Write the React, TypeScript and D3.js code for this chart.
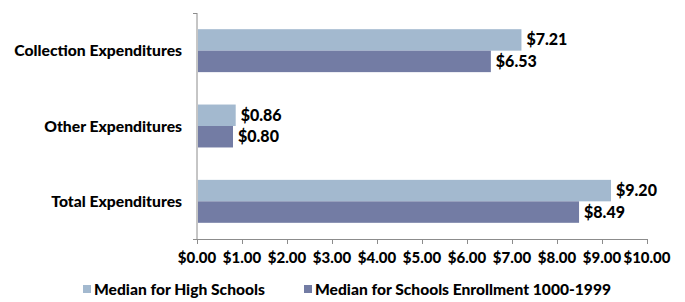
import React, { useEffect, useRef } from 'react';
import * as d3 from 'd3';

const categories = ['Collection Expenditures', 'Other Expenditures', 'Total Expenditures'];
const seriesNames = ['Median for High Schools', 'Median for Schools Enrollment 1000-1999'];
const highSchools = [7.21, 0.86, 9.2];
const enrollment1000 = [6.53, 0.8, 8.49];
const xTicks = [0, 1, 2, 3, 4, 5, 6, 7, 8, 9, 10];
const colors = ['#A3B9CF', '#737CA4'];

const W = 685;
const H = 302;
const FONT = 'Lato, "Open Sans", sans-serif';

const App = () => {
  const ref = useRef<SVGSVGElement>(null);

  useEffect(() => {
    const svg = d3.select(ref.current);
    svg.selectAll('*').remove();

    const x = d3.scaleLinear().domain([0, 10]).range([197, 647]);
    const y = d3.scaleBand().domain(categories).range([13, 239]).paddingInner(0.43).paddingOuter(0.215);
    const series = [highSchools, enrollment1000];
    const barH = y.bandwidth() / 2;

    // axes
    svg.append('line').attr('x1', x(0)).attr('x2', x(0)).attr('y1', 13).attr('y2', 239)
      .attr('stroke', '#8c8c8c');
    svg.append('line').attr('x1', x(0) - 4).attr('x2', x(0)).attr('y1', 13.5).attr('y2', 13.5)
      .attr('stroke', '#8c8c8c');
    svg.append('line').attr('x1', x(0) - 4).attr('x2', x(10)).attr('y1', 239.5).attr('y2', 239.5)
      .attr('stroke', '#8c8c8c');
    svg.selectAll('.tick').data(xTicks).enter().append('line')
      .attr('x1', (d) => x(d) + 0.5).attr('x2', (d) => x(d) + 0.5)
      .attr('y1', 239).attr('y2', 244).attr('stroke', '#8c8c8c');
    svg.selectAll('.ticklabel').data(xTicks).enter().append('text')
      .attr('x', (d) => x(d)).attr('y', 263).attr('text-anchor', 'middle')
      .attr('font-family', FONT).attr('font-weight', 900).attr('font-size', 15)
      .text((d) => '$' + d.toFixed(2));

    // category labels
    svg.selectAll('.cat').data(categories).enter().append('text')
      .attr('x', 182).attr('y', (d) => (y(d) as number) + y.bandwidth() / 2 + 5.5)
      .attr('text-anchor', 'end')
      .attr('font-family', FONT).attr('font-weight', 900).attr('font-size', 15.7)
      .text((d) => d);

    series.forEach((vals, si) => {
      const g = svg.append('g');
      g.selectAll('rect').data(vals).enter().append('rect')
        .attr('x', x(0) + 1)
        .attr('y', (d, i) => (y(categories[i]) as number) + si * barH)
        .attr('width', (d) => x(d) - x(0) - 1)
        .attr('height', barH)
        .attr('fill', colors[si]);
      g.selectAll('text').data(vals).enter().append('text')
        .attr('x', (d) => x(d) + 5)
        .attr('y', (d, i) => (y(categories[i]) as number) + si * barH + barH / 2 + 5.5)
        .attr('font-family', FONT).attr('font-weight', 900).attr('font-size', 16)
        .text((d) => '$' + d.toFixed(2));
    });

    // legend
    const legendX = [83, 304];
    seriesNames.forEach((name, i) => {
      svg.append('rect').attr('x', legendX[i]).attr('y', 285).attr('width', 8).attr('height', 8)
        .attr('fill', colors[i]);
      svg.append('text').attr('x', legendX[i] + 11).attr('y', 295)
        .attr('font-family', FONT).attr('font-weight', 900).attr('font-size', 15.6)
        .text(name);
    });
  }, []);

  return (
    <svg ref={ref} width={W} height={H} style={{ position: 'absolute', left: 0, top: 0, background: '#fff' }} />
  );
};

export default App;
